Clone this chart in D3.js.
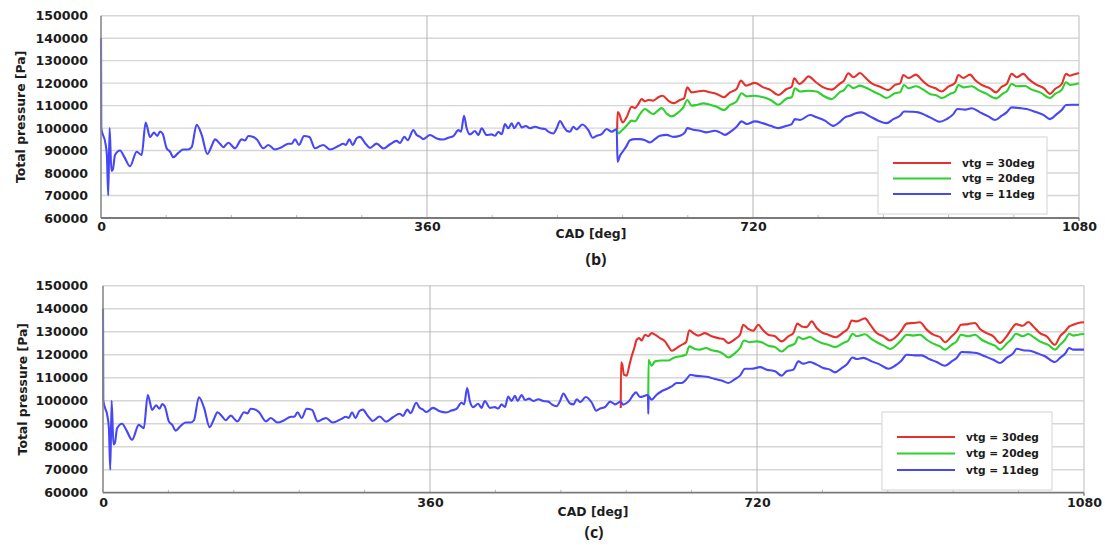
<!DOCTYPE html>
<html><head><meta charset="utf-8">
<script src="https://cdn.jsdelivr.net/npm/d3@7"></script>
<style>
body{margin:0;background:#fff}
svg{display:block}
text{font-family:"DejaVu Sans",sans-serif;font-weight:bold;fill:#1c1c1c}
</style>
</head><body>
<svg id="chart" width="1105" height="545"></svg>
<script>
// [CAD deg, total pressure Pa] — common intake trace before the VTG switch
const baseTrace = [
[0,140000],[0.3,100000],[5,93000],[6.5,88000],[8,70000],[9.5,100000],[11.5,81000],[13,81500],[15.5,88000],[21,90000],
[26,87000],[32,83000],[39.4,89500],[44.9,88000],[49.3,102500],[54.2,96000],[58.5,98000],[62.2,96500],[65.2,98500],[68.1,97500],
[72.5,91000],[76.2,89500],[79.9,87000],[85.4,89000],[90.9,90500],[96.4,90500],[100.1,91500],[105.6,101500],[111.2,97000],[117.4,88500],
[122.2,92000],[125.9,95000],[131.4,93000],[135.1,91500],[140.6,93500],[148,91000],[155.3,95000],[159,94500],[162.7,96500],[168.2,96000],
[171.9,95000],[179.3,91000],[184.8,92500],[192.1,90500],[199.5,91500],[206.9,93000],[210.6,93000],[214.2,95000],[218.7,92500],[224.2,96500],
[230.1,96000],[236.3,91000],[241.9,92000],[245.5,92500],[252.9,90500],[262.1,92000],[267.6,93000],[270.5,92500],[274.2,95000],[277.9,92500],
[282.3,95500],[286,96100],[291.5,93400],[297,91200],[304.4,93100],[311.8,90900],[319.2,92800],[326.5,94300],[330.2,93400],[335,96100],
[338.7,94600],[344.9,99100],[348.6,96900],[352.3,96100],[356,95100],[363.3,96900],[370.7,95400],[378,94900],[383.6,95700],[389.1,96400],
[394.6,99100],[397.6,98400],[400.9,105500],[403.8,99900],[407.5,97200],[413,98700],[416.7,96900],[420.4,99900],[425.9,96900],[431.4,97200],
[435.1,96600],[438.8,98400],[442.5,97300],[446.1,101800],[449.8,99900],[453.5,102100],[456.5,99900],[460.9,102500],[464.6,100300],[469,100900],
[473.8,99900],[479.3,100600],[484.8,99900],[490.3,99600],[494,98400],[499.5,97600],[503.2,99900],[506.9,103100],[510.6,100900],[514.2,98800],
[517.9,98400],[521.6,100600],[525.3,99400],[531.5,101600],[538.2,99100],[543,95700],[547.4,96600],[552.9,97300],[558.4,99600],[564,98400],
[569.5,99600]
];

// Panel (b): all three VTG positions switch at the same crank angle
const bRed = [
[570,99600],[570.4,107000],[571.2,107000],[576,102500],[580.4,104800],[586,109500],[589.7,108900],[593.3,110700],[597,112900],[600.7,111900],
[604.4,112500],[609.9,112200],[615.4,113700],[620.2,114400],[626.5,112200],[632.7,111100],[639.3,112500],[643.8,113200],[647.4,118100],[652.2,115900],
[657.7,116200],[665.1,116600],[672.5,115900],[679.8,115200],[687.9,113700],[694.6,115900],[701.9,117400],[706.7,121100],[712.2,118900],[722.2,120100],
[731.4,118100],[739.5,116900],[747.9,114700],[757.1,117400],[762.7,118400],[765.6,122100],[771.1,119600],[776.3,121100],[781.1,123000],[789.5,120400],
[797.6,118100],[806.8,117100],[816,119800],[820.5,121100],[825.3,124400],[830.8,122600],[838.2,124500],[843.7,122600],[851.1,119900],[860.3,118400],
[869.5,116900],[876.8,119200],[882.4,119900],[886,123600],[891.6,122300],[900,123800],[906.3,121400],[913.6,118900],[921,117800],[928.4,116300],
[935.7,118400],[943.1,120100],[946.8,123600],[952.3,122300],[959.7,123800],[965.2,121400],[972.5,119200],[981.7,117700],[988.4,115900],[994.6,118400],
[1000.1,119600],[1005.7,124100],[1011.2,122600],[1018.5,124100],[1024.1,121900],[1033.3,119200],[1041.4,117700],[1048,115200],[1053.5,117400],[1060.9,119600],
[1065.7,124100],[1070.1,123300],[1073.8,123800],[1080,124500]
];
const bGreen = [
[570,99600],[570.4,97600],[571.2,97600],[574.9,98800],[580.4,101000],[586,103300],[589.7,103000],[595.2,106200],[600.7,108500],[606.2,107000],
[609.9,106200],[613.6,107300],[619.1,108900],[624.6,106500],[630.1,105200],[637.5,107000],[643,109200],[647.4,112500],[652.2,110000],[657.7,110300],
[665.1,111000],[672.5,110400],[679.8,109500],[687.9,108000],[694.6,110300],[701.9,111900],[707.4,115500],[713,114100],[722.2,114400],[731.4,113700],
[739.5,112500],[747.9,110400],[757.1,113200],[762.7,113700],[766.3,117700],[771.9,116300],[781.1,116600],[790.3,116300],[797.6,114400],[806.8,112900],
[816,116000],[820.5,116900],[825.3,119200],[830.8,117800],[838.2,118900],[845.5,117800],[852.9,116300],[860.3,114900],[867.6,113400],[876.8,115500],
[882.4,115900],[886.8,119200],[891.6,117700],[900,118600],[908.1,117100],[915.5,115200],[922.8,114500],[928.4,113400],[937.6,115200],[943.1,116200],
[946.8,119200],[952.3,118100],[961.5,118600],[968.9,116900],[978.1,115200],[988.4,113200],[996.5,115500],[1000.1,116300],[1005.7,119600],[1011.2,118600],
[1020.4,118700],[1027.8,117100],[1037,115900],[1048,113400],[1053.5,115200],[1060.9,117000],[1065.7,120400],[1070.1,119200],[1080,119900]
];
const bBlue = [
[570.4,85000],[573.1,87700],[576.8,89900],[580.4,92100],[584.1,94600],[589.7,95100],[595.2,95100],[600.7,94600],[606.2,93600],[611.7,95100],
[617.3,96600],[624.6,97000],[632,96100],[639.3,96600],[644.9,98100],[647.4,100000],[654.1,99300],[661.4,98800],[668.8,98100],[678,98800],
[683.5,98100],[689,97000],[696.4,98800],[701.9,100600],[707.4,103000],[713,101800],[722.2,103000],[731.4,102100],[739.5,101000],[747.9,100000],
[757.1,101000],[762.7,101800],[766.3,104000],[771.9,103600],[782.9,105800],[790.3,104800],[799.5,103300],[808.7,101000],[816,102800],[821.6,104800],
[827.1,105500],[832.7,106500],[840,107000],[849.2,105200],[858.4,103300],[867.6,102200],[875,104000],[882.4,105500],[886.8,107400],[895.2,107300],
[902.6,107000],[911.8,105500],[919.2,104000],[926.5,102800],[933.9,104000],[941.3,106200],[945.7,108500],[954.1,108200],[961.5,108800],[970.7,107000],
[979.9,105200],[987.3,103600],[994.6,105500],[1000.1,107000],[1005.7,109200],[1014.9,108900],[1022.2,108500],[1033.3,107000],[1040.6,105900],[1048,104000],
[1055.4,106200],[1060.9,108000],[1065.7,110300],[1073.8,110400],[1080,110400]
];

// Panel (c): staggered switching of the VTG positions
const cRed = [
[570,96800],[570.3,116700],[571.7,115700],[573.5,111300],[576.5,110900],[579.4,115200],[582,119300],[584.9,122900],[587.5,126500],[590.4,127200],
[593,126200],[596.7,128700],[600.3,128000],[604,129400],[607.7,128700],[613.2,127200],[618.7,125800],[622.4,123600],[626,121700],[631.5,122900],
[637,124300],[641.8,125400],[645.5,130600],[649.9,129400],[655.4,128300],[662.7,129400],[670.1,128000],[677.4,127200],[682.9,126800],[688.4,125100],
[695.8,126800],[701.3,128700],[704.9,133000],[710.4,131200],[715.9,130400],[721.4,133000],[726.2,130900],[732.5,128700],[739.8,128000],[747.1,125800],
[754.5,128000],[760,129400],[764.4,133500],[769.2,132300],[774.7,132000],[780.2,134500],[785.7,131600],[791.2,129700],[798.5,128700],[806.5,127600],
[815,129700],[820.5,131600],[824.2,134900],[829.7,134500],[838.9,135800],[844.4,133200],[851.7,129400],[859,128000],[866.4,126200],[873.7,128000],
[879.2,130600],[884.7,133500],[892.1,133800],[899.4,134100],[906.8,130900],[914.1,128700],[921.4,127700],[927,125400],[934.3,128000],[939.8,130100],
[944.6,133000],[952.6,133300],[960,133800],[965.5,131200],[972.8,129400],[980.2,128000],[987.5,125100],[994.8,128000],[1000.3,131200],[1005.1,133300],
[1012.5,132600],[1018.7,134200],[1024.2,132300],[1031.5,129400],[1038.9,128000],[1048,124300],[1053.6,128000],[1059.1,130100],[1063.8,132300],[1068.2,133000],
[1073.7,133800],[1080,134100]
];
const cGreen = [
[600.3,101200],[600.6,117800],[604,115200],[607.7,117100],[615,117500],[622.4,117500],[627.9,118600],[635.2,119300],[641.8,120000],[645.5,123600],
[651.7,122500],[657.2,122200],[663.8,122900],[670.1,121900],[677.4,121400],[682.9,120400],[688.4,118800],[695.8,120700],[701.3,122900],[705.7,126200],
[712.3,125400],[719.6,125800],[725.1,125400],[732.5,123900],[739.8,123300],[747.1,121400],[754.5,123600],[761.8,124800],[765.5,127700],[771,126800],
[778.3,127700],[783.8,126500],[791.2,125100],[798.5,124300],[805.9,123300],[815,125100],[820.5,126200],[825.3,129100],[829.7,128000],[838.9,128900],
[846.2,126800],[853.5,125100],[860.9,123600],[866.4,122500],[873.7,124300],[879.2,126500],[884.7,128700],[892.1,128300],[899.4,128700],[906.8,126500],
[914.1,124800],[921.4,123600],[927,122200],[934.3,124300],[939.8,125800],[944.6,128700],[952.6,128000],[960,128700],[967.3,126500],[974.7,125100],
[982,123900],[987.5,122200],[994.8,124800],[1000.3,126800],[1005.1,129100],[1012.5,128000],[1018.7,129000],[1026,127200],[1033.4,125400],[1040.7,124300],
[1048,122200],[1053.6,124300],[1059.1,126500],[1063.8,129100],[1068.2,128300],[1073.7,128700],[1080,129000]
];
const cBlue = [
[572.8,98300],[576.5,99000],[580.2,100400],[583.8,102600],[586.8,103600],[591.2,101600],[596.7,102200],[600,102600],[600.3,94300],[600.7,101900],
[604,100400],[609.5,102600],[615,104100],[620.5,105100],[626,106200],[631.5,107700],[637,107700],[641.8,109100],[646.9,111300],[651.7,110900],
[659,110600],[666.4,110300],[673.7,109400],[681.1,108800],[688.4,107700],[695.8,109400],[701.3,110900],[706.8,113900],[714.1,113900],[723.3,114600],
[730.6,113500],[739.8,112800],[747.1,110900],[752.6,112800],[760,113500],[765.5,117100],[771,116100],[778.3,116800],[785.7,115700],[793,114200],
[800.4,113500],[805.9,112300],[813.2,114200],[818.7,115700],[825.3,118800],[829.7,118100],[837,118600],[846.2,117100],[855.4,115700],[864.6,113900],
[871.9,115200],[879.2,117500],[884.7,120000],[893.9,119700],[901.3,119700],[908.6,118300],[917.8,116800],[927,115200],[934.3,117100],[939.8,118600],
[945.3,121200],[954.5,121000],[961.8,120700],[971,119300],[980.2,117800],[987.5,116400],[994.8,118600],[1002.2,120700],[1005.9,122600],[1013.2,121900],
[1020.5,121700],[1027.9,120700],[1037,119300],[1048,116800],[1053.6,118600],[1059.1,120400],[1063.8,122900],[1068.2,122200],[1073.7,122200],[1080,122200]
];

const seriesNames = ["vtg = 30deg", "vtg = 20deg", "vtg = 11deg"];
const yTicks = [60000, 70000, 80000, 90000, 100000, 110000, 120000, 130000, 140000, 150000];
const xLabelTicks = [0, 360, 720, 1080];
const xMinorTicks = [72, 144, 216, 288, 432, 504, 576, 648, 792, 864, 936, 1008];
const xGridTicks = [360, 720];
const panelTags = ["(b)", "(c)"];

const colors = ["#e6302c", "#2ed12e", "#4747f7"];

const svg = d3.select("#chart");

function drawPanel(opt) {
  const x = d3.scaleLinear().domain([0, 1080]).range([opt.left, opt.right]);
  const y = d3.scaleLinear().domain([60000, 150000]).range([opt.bottom, opt.top]);
  const g = svg.append("g");

  // horizontal grid
  g.selectAll(".hg").data(yTicks.slice(1)).join("line")
    .attr("x1", opt.left).attr("x2", opt.right)
    .attr("y1", d => y(d)).attr("y2", d => y(d))
    .attr("stroke", "#d6d6d6").attr("stroke-width", 1.4);
  // vertical grid at the major CAD marks
  g.selectAll(".vg").data(xGridTicks).join("line")
    .attr("x1", d => x(d)).attr("x2", d => x(d))
    .attr("y1", opt.top).attr("y2", opt.bottom)
    .attr("stroke", "#b4b4b4").attr("stroke-width", 1);
  // right frame
  g.append("line").attr("x1", opt.right).attr("x2", opt.right)
    .attr("y1", opt.top).attr("y2", opt.bottom)
    .attr("stroke", "#cfcfcf").attr("stroke-width", 1.4);
  // minor ticks on the CAD axis
  g.selectAll(".mt").data(xMinorTicks).join("line")
    .attr("x1", d => x(d)).attr("x2", d => x(d))
    .attr("y1", opt.bottom).attr("y2", opt.bottom - 3)
    .attr("stroke", "#bbb").attr("stroke-width", 1);

  // traces
  const line = d3.line().x(d => x(d[0])).y(d => y(d[1])).curve(d3.curveMonotoneX);
  opt.series.forEach((s, i) => {
    g.append("path").datum(s).attr("d", line)
      .attr("fill", "none").attr("stroke", colors[i])
      .attr("stroke-width", 2.1).attr("stroke-linejoin", "round");
  });

  // axes
  g.append("line").attr("x1", opt.left).attr("x2", opt.left)
    .attr("y1", opt.top).attr("y2", opt.bottom)
    .attr("stroke", "#8a8a8a").attr("stroke-width", 1.6);
  g.append("line").attr("x1", opt.left).attr("x2", opt.right)
    .attr("y1", opt.bottom).attr("y2", opt.bottom)
    .attr("stroke", "#7a7a7a").attr("stroke-width", 1.8);
  g.append("line").attr("x1", opt.right).attr("x2", opt.right)
    .attr("y1", opt.bottom).attr("y2", opt.bottom + 3)
    .attr("stroke", "#7a7a7a").attr("stroke-width", 1.4);

  const ya = g.append("g").attr("transform", `translate(${opt.left},0)`)
    .call(d3.axisLeft(y).tickValues(yTicks).tickFormat(d3.format("d")).tickSize(0).tickPadding(opt.left - 88));
  ya.select(".domain").remove();
  ya.selectAll("text").attr("font-size", 12.6).attr("font-family", "DejaVu Sans").attr("font-weight", "bold").attr("fill", "#1c1c1c");

  const xa = g.append("g").attr("transform", `translate(0,${opt.bottom})`)
    .call(d3.axisBottom(x).tickValues(xLabelTicks).tickFormat(d3.format("d")).tickSize(0).tickPadding(opt.xPad));
  xa.select(".domain").remove();
  xa.selectAll("text").attr("font-size", 12.6).attr("font-family", "DejaVu Sans").attr("font-weight", "bold").attr("fill", "#1c1c1c");

  // titles
  g.append("text").attr("transform", `translate(${opt.yTitleX},${(opt.top + opt.bottom) / 2}) rotate(-90)`)
    .attr("text-anchor", "middle").attr("font-size", 12.4).text("Total pressure [Pa]");
  g.append("text").attr("x", opt.xTitleX).attr("y", opt.xTitleY)
    .attr("text-anchor", "middle").attr("font-size", 12.4).text("CAD [deg]");
  g.append("text").attr("x", opt.tagX).attr("y", opt.tagY)
    .attr("text-anchor", "middle").attr("font-size", 16)
    .style("font-family", "'Open Sans', sans-serif").style("font-weight", 700)
    .text(opt.tag);

  // legend
  const L = opt.legend;
  g.append("rect").attr("x", L.x).attr("y", L.y).attr("width", L.w).attr("height", L.h)
    .attr("fill", "#fff").attr("stroke", "#dadada").attr("stroke-width", 1.2);
  seriesNames.forEach((name, i) => {
    const yy = L.y + L.first + i * L.step;
    g.append("line").attr("x1", L.x + 15).attr("x2", L.x + 73)
      .attr("y1", yy).attr("y2", yy).attr("stroke", colors[i]).attr("stroke-width", 2.2);
    g.append("text").attr("x", L.x + 84).attr("y", yy).attr("dy", "0.36em")
      .attr("font-size", 10.6).text(name);
  });
}

drawPanel({
  left: 101, right: 1079, top: 15.7, bottom: 218,
  xPad: 4, yTitleX: 25, xTitleX: 591, xTitleY: 238, tagX: 596, tagY: 265, tag: panelTags[0],
  series: [bRed, bGreen, baseTrace.concat(bBlue)],
  legend: {x: 878, y: 137, w: 169, h: 77, first: 26, step: 15.5}
});

drawPanel({
  left: 103, right: 1084, top: 285.7, bottom: 492.7,
  xPad: 5.5, yTitleX: 27, xTitleX: 593, xTitleY: 516, tagX: 594, tagY: 538, tag: panelTags[1],
  series: [cRed, cGreen, baseTrace.concat(cBlue)],
  legend: {x: 882, y: 412, w: 170, h: 78, first: 25, step: 16.5}
});
</script>
</body></html>
